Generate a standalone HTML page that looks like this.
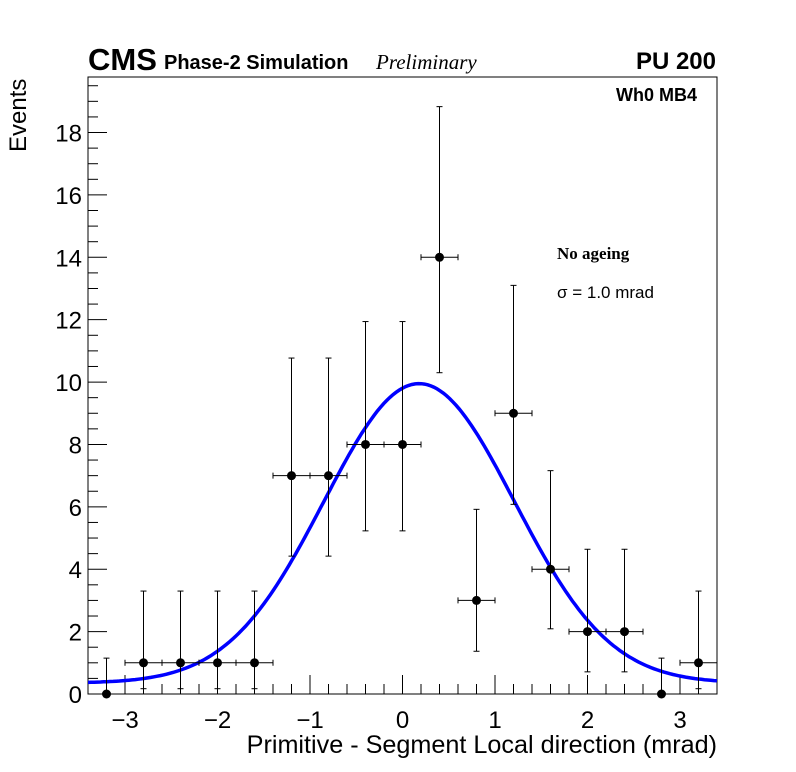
<!DOCTYPE html>
<html><head><meta charset="utf-8"><style>
body{margin:0;background:#fff;}
svg{display:block;font-family:"Liberation Sans",sans-serif;}
</style></head><body>
<svg id="c" width="796" height="772">
<rect x="88" y="77" width="629" height="617" fill="none" stroke="#000" stroke-width="1"/>
<text x="88" y="70" font-size="31" font-weight="bold">CMS</text>
<text x="164" y="69" font-size="20" font-weight="bold">Phase-2 Simulation</text>
<text x="376" y="69" font-size="21" font-style="italic" font-family="Liberation Serif,serif">Preliminary</text>
<text x="716" y="69" font-size="24" font-weight="bold" text-anchor="end">PU 200</text>
<text x="697" y="101" font-size="18" font-weight="bold" text-anchor="end">Wh0 MB4</text>
<text x="557" y="259" font-size="17" font-weight="bold" font-family="Liberation Serif,serif">No ageing</text>
<text x="557" y="298" font-size="17">σ = 1.0 mrad</text>
<text x="717" y="753" font-size="25.2" text-anchor="end">Primitive - Segment Local direction (mrad)</text>
<text transform="translate(26,152) rotate(-90)" font-size="24">Events</text>
<g id="axes"></g><g id="fit"></g><g id="pts"></g>
</svg>
<script>
const xCenters=[-3.2,-2.8,-2.4,-2.0,-1.6,-1.2,-0.8,-0.4,0,0.4,0.8,1.2,1.6,2.0,2.4,2.8,3.2];
const counts=[0,1,1,1,1,7,7,8,8,14,3,9,4,2,2,0,1];
const errLow=[0,0.83,0.83,0.83,0.83,2.58,2.58,2.77,2.77,3.7,1.63,2.92,1.91,1.29,1.29,0,0.83];
const errHigh=[1.15,2.3,2.3,2.3,2.3,3.77,3.77,3.94,3.94,4.83,2.92,4.1,3.16,2.64,2.64,1.15,2.3];
const fitAmp=9.6, fitMean=0.18, fitSigma=1.03, fitConst=0.35;
const xTicks=[-3,-2,-1,0,1,2,3];
const yTicks=[0,2,4,6,8,10,12,14,16,18];
const X0=88,X1=717,Y0=694,Y1=77,xmin=-3.4,xmax=3.4,ymin=0,ymax=19.78;
const sx=v=>X0+(v-xmin)/(xmax-xmin)*(X1-X0);
const sy=v=>Y0-(v-ymin)/(ymax-ymin)*(Y0-Y1);
const NS="http://www.w3.org/2000/svg";
function mk(p,t,a){const e=document.createElementNS(NS,t);for(const k in a)e.setAttribute(k,a[k]);p.appendChild(e);return e;}
const ax=document.getElementById('axes');
for(let v=-3.4;v<=3.401;v+=0.2){const r=Math.round(v*10)/10;const maj=Math.abs(r-Math.round(r))<1e-6;
 const t=mk(ax,'line',{x1:sx(r),x2:sx(r),y1:Y0,y2:Y0-(maj?19:10),stroke:'#000'});
 
 }
xTicks.forEach(v=>{const t=mk(ax,'text',{x:sx(v),y:728,'font-size':24,'text-anchor':'middle'});t.textContent=v<0?'\u2212'+(-v):v;
 
 });
for(let v=0;v<=19.6;v+=0.5){const maj=Math.abs(v/2-Math.round(v/2))<1e-6;
 const t=mk(ax,'line',{x1:X0,x2:X0+(maj?19:10),y1:sy(v),y2:sy(v),stroke:'#000'});
 
 }
yTicks.forEach(v=>{const t=mk(ax,'text',{x:82,y:sy(v)+9,'font-size':24,'text-anchor':'end'});t.textContent=v;
 
 });
let d='';for(let i=0;i<=200;i++){const x=xmin+(xmax-xmin)*i/200;const y=fitConst+fitAmp*Math.exp(-Math.pow(x-fitMean,2)/(2*fitSigma*fitSigma));d+=(i?'L':'M')+sx(x).toFixed(1)+','+sy(y).toFixed(1);}
const fp=mk(document.getElementById('fit'),'path',{d:d,fill:'none',stroke:'#0000ff','stroke-width':3.5});


const pg=document.getElementById('pts');
xCenters.forEach((x,i)=>{const g=mk(pg,'g',{});
 
 
 const cx=sx(x),cy=sy(counts[i]);
 mk(g,'line',{x1:cx,x2:cx,y1:sy(counts[i]-errLow[i]),y2:sy(counts[i]+errHigh[i]),stroke:'#000'});
 mk(g,'line',{x1:cx-3,x2:cx+3,y1:sy(counts[i]+errHigh[i]),y2:sy(counts[i]+errHigh[i]),stroke:'#000'});
 if(errLow[i]>0)mk(g,'line',{x1:cx-3,x2:cx+3,y1:sy(counts[i]-errLow[i]),y2:sy(counts[i]-errLow[i]),stroke:'#000'});
 if(counts[i]>0){const l=sx(x-0.2),r=sx(x+0.2);
  mk(g,'line',{x1:l,x2:r,y1:cy,y2:cy,stroke:'#000'});
  mk(g,'line',{x1:l,x2:l,y1:cy-3,y2:cy+3,stroke:'#000'});
  mk(g,'line',{x1:r,x2:r,y1:cy-3,y2:cy+3,stroke:'#000'});}
 mk(g,'circle',{cx:cx,cy:cy,r:4.5,fill:'#000'});
});
</script>
</body></html>
